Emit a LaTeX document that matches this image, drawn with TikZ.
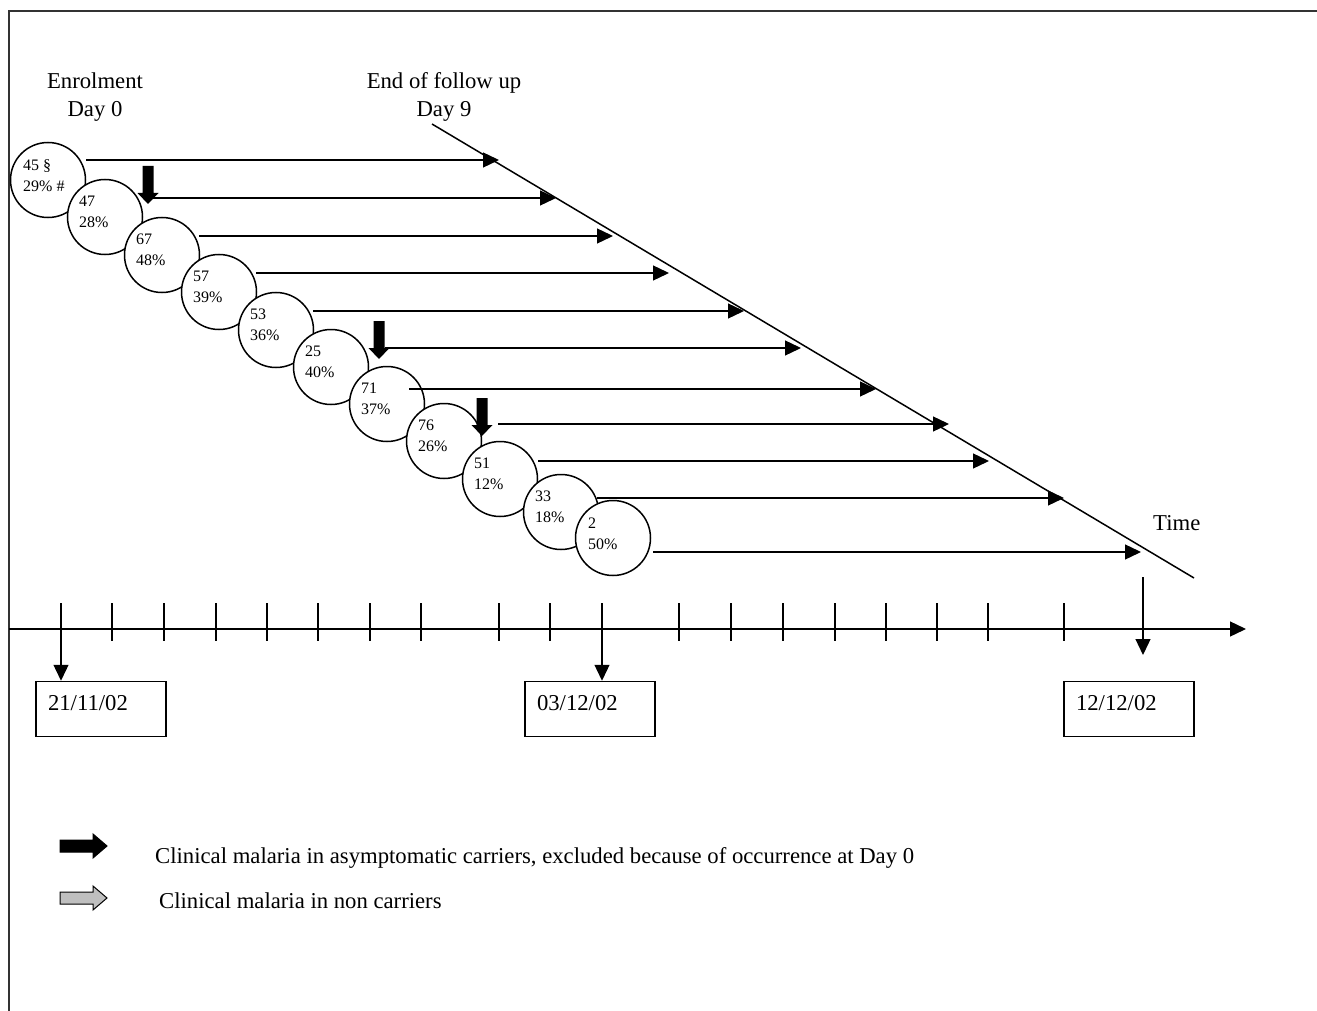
\documentclass[tikz,border=0pt]{standalone}
\usepackage{fontspec}
\setmainfont{Liberation Serif}
\usetikzlibrary{arrows.meta,calc}
\begin{document}
\begin{tikzpicture}[x=1pt,y=-1pt,
  lbl/.style={font=\fontsize{22.7}{28}\selectfont, inner sep=0pt},
  ctext/.style={font=\fontsize{16}{21}\selectfont, inner sep=0pt, align=left, anchor=north west},
  bubble/.style={circle, draw, line width=1.5pt, fill=white, minimum size=75pt, inner sep=0pt},
  flow/.style={line width=1.3pt, -{Triangle[length=16pt,width=15pt]}},
  datebox/.style={draw, line width=1.5pt, font=\fontsize{22.7}{28}\selectfont, text width=106pt, inner xsep=12pt, inner ysep=0pt, minimum height=55pt, text height=15pt, text depth=13pt, align=left},
  tickmark/.style={line width=1.3pt},
  frameline/.style={line width=1.2pt, draw=black!80},
  downblock/.pic={\fill (-5.5,0) -- (5.5,0) -- (5.5,27) -- (10.5,27) -- (0,38) -- (-10.5,27) -- (-5.5,27) -- cycle;},
  rightblock/.pic={\filldraw[fill=#1, line width=1pt] (0,-6) -- (33,-6) -- (33,-12) -- (47,0) -- (33,12) -- (33,6) -- (0,6) -- cycle;}
]
\useasboundingbox (0,0) rectangle (1317,1011);
\fill[white] (0,0) rectangle (1317,1011);

% frame (top and left edges)
\coordinate (fr0) at (9,1011);
\coordinate (fr1) at (9,11);
\coordinate (fr2) at (1317,11);
\draw[frameline] (fr0) -- (fr1) -- (fr2);

% headings
\node[lbl, align=center, anchor=north] (enrol) at (95,72.5) {Enrolment\\Day 0};
\node[lbl, align=center, anchor=north] (endfu) at (444,72.5) {End of follow up\\Day 9};
\node[lbl, anchor=base west] (time) at (1153,530) {Time};

% end of follow-up line
\coordinate (g0) at (432,124);
\coordinate (g1) at (1194,578);
\draw[line width=1.5pt] (g0) -- (g1);

% cohorts
\node[bubble] (c0) at (48,180) {};
\node[ctext] (t0) at ($(c0.center)+(-25,-21)$) {45 §\\29\% \#};
\node[bubble] (c1) at (105,217) {};
\node[ctext] (t1) at ($(c1.center)+(-26,-21)$) {47\\28\%};
\node[bubble] (c2) at (162,255) {};
\node[ctext] (t2) at ($(c2.center)+(-26,-21)$) {67\\48\%};
\node[bubble] (c3) at (219,292) {};
\node[ctext] (t3) at ($(c3.center)+(-26,-21)$) {57\\39\%};
\node[bubble] (c4) at (276,330) {};
\node[ctext] (t4) at ($(c4.center)+(-26,-21)$) {53\\36\%};
\node[bubble] (c5) at (331,367) {};
\node[ctext] (t5) at ($(c5.center)+(-26,-21)$) {25\\40\%};
\node[bubble] (c6) at (387,404) {};
\node[ctext] (t6) at ($(c6.center)+(-26,-21)$) {71\\37\%};
\node[bubble] (c7) at (444,441) {};
\node[ctext] (t7) at ($(c7.center)+(-26,-21)$) {76\\26\%};
\node[bubble] (c8) at (500,479) {};
\node[ctext] (t8) at ($(c8.center)+(-26,-21)$) {51\\12\%};
\node[bubble] (c9) at (561,512) {};
\node[ctext] (t9) at ($(c9.center)+(-26,-21)$) {33\\18\%};
\node[bubble] (c10) at (613,538) {};
\node[ctext] (t10) at ($(c10.center)+(-25,-20)$) {2\\50\%};

% follow-up arrows
\coordinate (s1) at (86,160);   \coordinate (e1) at (499,160);
\coordinate (s2) at (150,198);  \coordinate (e2) at (556,198);
\coordinate (s3) at (199,236);  \coordinate (e3) at (613,236);
\coordinate (s4) at (256,273);  \coordinate (e4) at (669,273);
\coordinate (s5) at (313,311);  \coordinate (e5) at (744,311);
\coordinate (s6) at (385,348);  \coordinate (e6) at (801,348);
\coordinate (s7) at (409,389);  \coordinate (e7) at (876,389);
\coordinate (s8) at (498,424);  \coordinate (e8) at (949,424);
\coordinate (s9) at (538,461);  \coordinate (e9) at (989,461);
\coordinate (s10) at (597,498); \coordinate (e10) at (1064,498);
\coordinate (s11) at (653,552); \coordinate (e11) at (1141,552);
\foreach \i in {1,...,11} \draw[flow] (s\i) -- (e\i);

% clinical malaria at day 0 (block arrows)
\pic (ba1) at (148,166) {downblock};
\pic (ba2) at (379,321) {downblock};
\pic (ba3) at (482,398) {downblock};

% time axis
\coordinate (ax0) at (9,629);
\coordinate (ax1) at (1246,629);
\draw[flow] (ax0) -- (ax1);
\foreach \x in {112,164,216,267,318,370,421,499,550,679,731,783,835,886,937,988,1064}
  \draw[tickmark] (\x,603) -- (\x,641);

% date boxes
\node[datebox] (b1) at (101,709) {21/11/02};
\node[datebox] (b2) at (590,709) {03/12/02};
\node[datebox] (b3) at (1129,709) {12/12/02};
\coordinate (d1) at (61,603);
\coordinate (d2) at (602,603);
\coordinate (d3) at (1143,577);
\coordinate (d3e) at (1143,655);
\draw[flow] (d1) -- (d1 |- b1.north);
\draw[flow] (d2) -- (d2 |- b2.north);
\draw[flow] (d3) -- (d3e);

% legend
\pic (lg1) at (60,846) {rightblock=black};
\pic (lg2) at (60,898) {rightblock={black!25}};
\node[lbl, anchor=base west] (lt1) at (155,863) {Clinical malaria in asymptomatic carriers, excluded because of occurrence at Day 0};
\node[lbl, anchor=base west] (lt2) at (159,908) {Clinical malaria in non carriers};
\end{tikzpicture}
\end{document}
